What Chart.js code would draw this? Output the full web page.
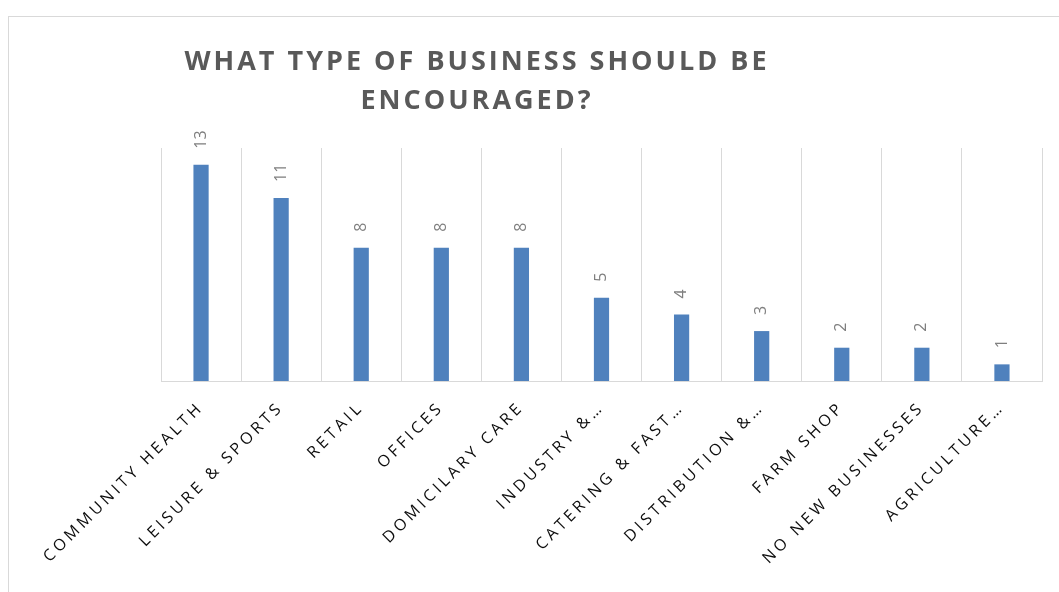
<!DOCTYPE html>
<html>
<head>
<meta charset="utf-8">
<script src="https://cdn.jsdelivr.net/npm/chart.js@4/dist/chart.umd.min.js"></script>
<style>
  html, body { margin: 0; padding: 0; background: #fff; }
  #wrap { width: 1059px; height: 592px; }
</style>
</head>
<body>
<div id="wrap"><canvas id="businessChart"></canvas></div>
<script>
// data
const categories = ["COMMUNITY HEALTH", "LEISURE & SPORTS", "RETAIL", "OFFICES", "DOMICILARY CARE",
    "INDUSTRY &\u2026", "CATERING & FAST\u2026", "DISTRIBUTION &\u2026", "FARM SHOP", "NO NEW BUSINESSES", "AGRICULTURE\u2026"];
const responses = [13, 11, 8, 8, 8, 5, 4, 3, 2, 2, 1];
const titleLines = ["WHAT TYPE OF BUSINESS SHOULD BE", "ENCOURAGED?"];

// Excel-ish frame, letter spacing, title and value labels
const excelLook = {
    id: "excelLook",
    beforeUpdate(chart) { chart.ctx.letterSpacing = "3.6px"; },
    beforeDraw(chart) {
        const ctx = chart.ctx;
        ctx.save();
        ctx.fillStyle = "#fff";
        ctx.fillRect(0, 0, chart.width, chart.height);
        ctx.strokeStyle = "#d9d9d9";
        ctx.lineWidth = 1;
        ctx.strokeRect(8.5, 16.5, 1200, 800);
        ctx.restore();
        ctx.letterSpacing = "3.6px";
    },
    afterDatasetsDraw(chart) {
        const ctx = chart.ctx;
        const bars = chart.getDatasetMeta(0).data;
        ctx.save();
        ctx.letterSpacing = "0px";
        ctx.font = "16px 'Open Sans'";
        ctx.fillStyle = "#7f7f7f";
        ctx.textAlign = "left";
        ctx.textBaseline = "middle";
        bars.forEach((bar, i) => {
            ctx.save();
            ctx.translate(bar.x, bar.y - 16);
            ctx.rotate(-Math.PI / 2);
            ctx.fillText(String(responses[i]), 0, 0);
            ctx.restore();
        });
        ctx.restore();
    },
    afterDraw(chart) {
        const ctx = chart.ctx;
        ctx.save();
        ctx.letterSpacing = "3px";
        ctx.font = "bold 27px 'Open Sans'";
        ctx.fillStyle = "#595959";
        ctx.textAlign = "center";
        ctx.textBaseline = "alphabetic";
        titleLines.forEach((line, i) => ctx.fillText(line, 477, 70 + i * 39));
        ctx.restore();
    }
};

const ctx = document.getElementById("businessChart").getContext("2d");

new Chart(ctx, {
    type: "bar",
    data: {
        labels: categories,
        datasets: [{
            data: responses,
            backgroundColor: "#4f81bd",
            barPercentage: 0.19,
            categoryPercentage: 1
        }]
    },
    options: {
        responsive: true,
        maintainAspectRatio: false,
        animation: false,
        layout: { padding: { top: 148, left: 161, right: 17, bottom: 0 } },
        plugins: {
            legend: { display: false },
            title: { display: false },
            tooltip: { enabled: false }
        },
        scales: {
            x: {
                offset: true,
                grid: { color: "#d9d9d9", lineWidth: 1, drawTicks: false, offset: true },
                border: { color: "#d9d9d9", width: 1 },
                ticks: {
                    color: "#0d0d0d",
                    font: { family: "'Open Sans'", size: 16 },
                    maxRotation: 45,
                    minRotation: 45,
                    autoSkip: false,
                    padding: 17
                },
                afterFit(scale) {
                    scale.height = 211;
                    scale.paddingLeft = 0;
                    scale.paddingRight = 0;
                }
            },
            y: {
                display: false,
                min: 0,
                max: 14
            }
        }
    },
    plugins: [excelLook]
});
</script>
</body>
</html>
